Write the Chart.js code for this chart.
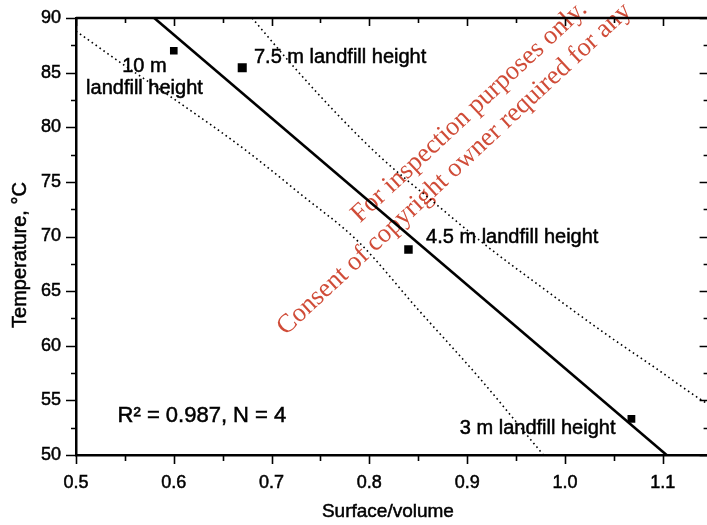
<!DOCTYPE html>
<html>
<head>
<meta charset="utf-8">
<script src="https://cdn.jsdelivr.net/npm/chart.js@4.4.1/dist/chart.umd.min.js"></script>
<style>
  html, body { margin: 0; padding: 0; background: #fff; overflow: hidden; }
  #wrap { width: 718px; height: 525px; }
</style>
</head>
<body>
<div id="wrap"><canvas id="myChart" width="718" height="525"></canvas></div>
<script>
// axis ranges and ticks
const xMin = 0.5, xMax = 1.15, xStep = 0.1;
const yMin = 50, yMax = 90, yStep = 5;
const xTickValues = [0.5, 0.6, 0.7, 0.8, 0.9, 1.0, 1.1];
const yTickValues = [50, 55, 60, 65, 70, 75, 80, 85, 90];
const xTitle = "Surface/volume";
const yTitle = "Temperature, °C";

// measured points (surface/volume vs temperature)
const pointX = [0.600, 0.670, 0.840, 1.068];
const pointY = [87.0, 85.45, 68.8, 53.3];

// regression line, read where it meets the frame
const fitX = [0.580, 1.104];
const fitY = [90, 50];

// dotted confidence bands
const upperX = [0.680, 0.723, 0.766, 0.811, 0.865, 0.919, 0.974, 1.043, 1.092, 1.142, 1.150];
const upperY = [90.0, 85.5, 81.3, 77.3, 73.2, 69.2, 65.5, 61.0, 58.0, 54.9, 54.5];
const lowerX = [0.500, 0.549, 0.608, 0.672, 0.728, 0.789, 0.850, 0.914, 0.978];
const lowerY = [88.8, 85.7, 82.1, 78.0, 74.0, 69.5, 63.3, 56.9, 50.0];

// text notes on the plot
const noteText = ["10 m", "landfill height", "7.5 m landfill height",
  "4.5 m landfill height", "3 m landfill height", "R\u00b2 = 0.987, N = 4"];
const stampText = ["For inspection purposes only.",
  "Consent of copyright owner required for any"];

// where the notes go (data coordinates, left/center + baseline)
const notes = [
  { i: 0, x: 0.570, y: 85.1, align: "center", size: 20 },
  { i: 1, x: 0.570, y: 83.0, align: "center", size: 20 },
  { i: 2, x: 0.682, y: 85.9, align: "left", size: 20 },
  { i: 3, x: 0.858, y: 69.4, align: "left", size: 20 },
  { i: 4, x: 0.8925, y: 51.9, align: "left", size: 20 },
  { i: 5, x: 0.5425, y: 53.0, align: "left", size: 22 },
];
const stamps = [
  { i: 0, x: 0.7905, y: 71.2 },
  { i: 1, x: 0.7145, y: 60.9 },
];

const sansFont = "'Liberation Sans', Arial, Helvetica, sans-serif";
const serifFont = "'Liberation Serif', 'Times New Roman', serif";

function toPoints(xs, ys) {
  return xs.map(function (v, k) { return { x: v, y: ys[k] }; });
}

function useTicks(values) {
  return function (scale) {
    scale.ticks = values.map(function (v) { return { value: v }; });
  };
}

const stampPlugin = {
  id: "stamp",
  beforeDatasetsDraw(chart) {
    const ctx = chart.ctx;
    const xs = chart.scales.x, ys = chart.scales.y;
    ctx.save();
    ctx.fillStyle = "#d04c38";
    ctx.font = "26.5px " + serifFont;
    ctx.textAlign = "left";
    ctx.textBaseline = "alphabetic";
    stamps.forEach(function (s) {
      ctx.save();
      ctx.translate(xs.getPixelForValue(s.x), ys.getPixelForValue(s.y));
      ctx.rotate(-43 * Math.PI / 180);
      ctx.fillText(stampText[s.i], 0, 0);
      ctx.restore();
    });
    ctx.restore();
  },
};

function heavyText(ctx, text, x, y) {
  ctx.strokeText(text, x, y);
  ctx.fillText(text, x, y);
}

const framePlugin = {
  id: "frame",
  afterDraw(chart) {
    const ctx = chart.ctx;
    const a = chart.chartArea;
    const xs = chart.scales.x, ys = chart.scales.y;
    ctx.save();
    ctx.strokeStyle = "#000";
    ctx.lineWidth = 2.5;
    ctx.beginPath();
    ctx.moveTo(a.left, a.top); ctx.lineTo(a.right, a.top);
    ctx.moveTo(a.right, a.top); ctx.lineTo(a.right, a.bottom);
    ctx.stroke();

    ctx.lineWidth = 1.6;
    ctx.beginPath();
    for (let v = xMin; v <= xMax + 1e-9; v += xStep / 2) {
      const major = Math.abs(v / xStep - Math.round(v / xStep)) < 1e-6;
      const px = Math.round(xs.getPixelForValue(v)) + 0.5;
      ctx.moveTo(px, a.bottom); ctx.lineTo(px, a.bottom + (major ? 9 : 6));
      ctx.moveTo(px, a.top); ctx.lineTo(px, a.top + (major ? 8 : 5));
    }
    for (let v = yMin; v <= yMax + 1e-9; v += yStep / 2) {
      const major = Math.abs(v / yStep - Math.round(v / yStep)) < 1e-6;
      const py = Math.round(ys.getPixelForValue(v)) + 0.5;
      ctx.moveTo(a.left, py); ctx.lineTo(a.left - (major ? 10 : 5), py);
      ctx.moveTo(a.right, py); ctx.lineTo(a.right - (major ? 12 : 8), py);
    }
    ctx.stroke();

    ctx.fillStyle = "#000";
    ctx.strokeStyle = "#000";
    ctx.lineWidth = 0.5;
    ctx.textBaseline = "alphabetic";
    notes.forEach(function (n) {
      ctx.font = n.size + "px " + sansFont;
      ctx.textAlign = n.align;
      heavyText(ctx, noteText[n.i], xs.getPixelForValue(n.x), ys.getPixelForValue(n.y));
    });

    ctx.textAlign = "center";
    ctx.textBaseline = "middle";
    ctx.font = "19px " + sansFont;
    heavyText(ctx, xTitle, xs.getPixelForValue(0.819), 512);
    ctx.save();
    ctx.translate(20, ys.getPixelForValue(68.3));
    ctx.rotate(-Math.PI / 2);
    ctx.font = "20px " + sansFont;
    heavyText(ctx, yTitle, 0, 0);
    ctx.restore();
    ctx.restore();
  },
};

document.addEventListener("DOMContentLoaded", function () {
  const ctx = document.getElementById("myChart");
  window.myChart = new Chart(ctx, {
    type: "scatter",
    data: {
      datasets: [
        {
          label: "Regression",
          type: "line",
          data: toPoints(fitX, fitY),
          borderColor: "#000",
          borderWidth: 2.6,
          pointRadius: 0,
          fill: false,
        },
        {
          label: "Upper band",
          type: "line",
          data: toPoints(upperX, upperY),
          borderColor: "#000",
          borderWidth: 1.6,
          borderDash: [1.6, 3.2],
          cubicInterpolationMode: "monotone",
          pointRadius: 0,
          fill: false,
        },
        {
          label: "Lower band",
          type: "line",
          data: toPoints(lowerX, lowerY),
          borderColor: "#000",
          borderWidth: 1.6,
          borderDash: [1.6, 3.2],
          cubicInterpolationMode: "monotone",
          pointRadius: 0,
          fill: false,
        },
        {
          label: "Landfill",
          data: toPoints(pointX, pointY),
          pointStyle: "rect",
          pointRadius: [5.4, 6.4, 6.0, 5.5],
          backgroundColor: "#000",
          borderColor: "#000",
          borderWidth: 0,
        },
      ],
    },
    options: {
      responsive: false,
      animation: false,
      devicePixelRatio: 1,
      layout: { padding: { top: 18, right: 3, left: 0, bottom: 0 } },
      plugins: { legend: { display: false }, tooltip: { enabled: false } },
      scales: {
        x: {
          type: "linear",
          min: xMin,
          max: xMax,
          grid: { display: false },
          border: { display: true, color: "#000", width: 2.5 },
          ticks: {
            padding: 9,
            color: "#000",
            textStrokeColor: "#000",
            textStrokeWidth: 0.5,
            font: { family: sansFont, size: 18 },
            callback: function (v) { return v.toFixed(1); },
          },
          afterBuildTicks: useTicks(xTickValues),
          afterFit: function (scale) { scale.height = 70; },
        },
        y: {
          type: "linear",
          min: yMin,
          max: yMax,
          grid: { display: false },
          border: { display: true, color: "#000", width: 2.5 },
          ticks: {
            padding: 7,
            color: "#000",
            textStrokeColor: "#000",
            textStrokeWidth: 0.5,
            font: { family: sansFont, size: 18 },
          },
          afterBuildTicks: useTicks(yTickValues),
          afterFit: function (scale) { scale.width = 76; },
        },
      },
    },
    plugins: [stampPlugin, framePlugin],
  });
});
</script>
</body>
</html>
